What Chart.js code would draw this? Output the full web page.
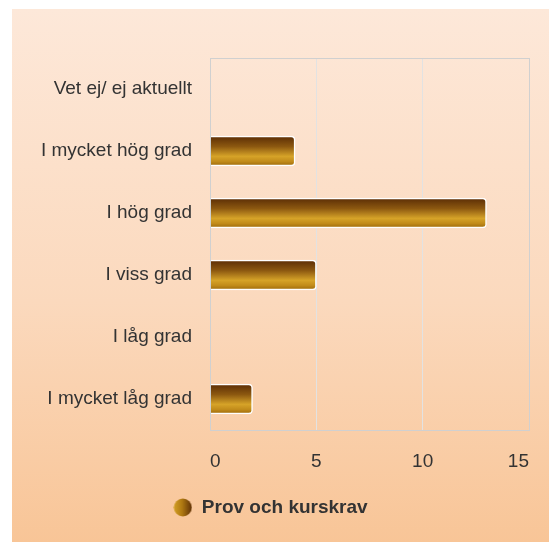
<!DOCTYPE html>
<html>
<head>
<meta charset="utf-8">
<script src="https://cdn.jsdelivr.net/npm/chart.js@4.4.0/dist/chart.umd.min.js"></script>
<style>
  html, body { margin: 0; padding: 0; background: #fff; overflow: hidden; }
  #wrap {
    position: absolute; left: 12px; top: 9px; width: 537px; height: 533px;
    background: linear-gradient(to bottom, #fde8d9 0%, #fbd9bd 55%, #f8c597 100%);
  }
</style>
</head>
<body>
<div id="wrap"><canvas id="chart"></canvas></div>
<script>
const categories = ["Vet ej/ ej aktuellt", "I mycket hög grad", "I hög grad", "I viss grad", "I låg grad", "I mycket låg grad"];
const values = [0, 4, 13, 5, 0, 2];
const seriesName = "Prov och kurskrav";
const xTicks = [0, 5, 10, 15];

const ctx = document.getElementById("chart").getContext("2d");
const FONT = "Arial, 'Liberation Sans', sans-serif";

// little gradient circle for the legend
const dot = document.createElement("canvas");
dot.width = 19; dot.height = 19;
const dctx = dot.getContext("2d");
const dg = dctx.createLinearGradient(0, 0, 19, 0);
dg.addColorStop(0, "#d4a126");
dg.addColorStop(0.45, "#b07a12");
dg.addColorStop(1, "#5c2e06");
dctx.fillStyle = dg;
dctx.beginPath();
dctx.arc(9.5, 9.5, 9, 0, Math.PI * 2);
dctx.fill();

function barFill(c) {
  const chart = c.chart;
  if (!chart.chartArea || !chart.scales.y) return "#b07a12";
  const y = chart.scales.y.getPixelForValue(c.dataIndex);
  const g = chart.ctx.createLinearGradient(0, y - 15, 0, y + 15);
  g.addColorStop(0, "#5a2c05");
  g.addColorStop(0.35, "#8c5810");
  g.addColorStop(0.68, "#d6a328");
  g.addColorStop(0.85, "#c18b1a");
  g.addColorStop(1, "#9a680a");
  return g;
}

const plotBorder = {
  id: "plotBorder",
  afterDraw(chart) {
    const a = chart.chartArea;
    const c = chart.ctx;
    c.save();
    c.strokeStyle = "#d0d0d0";
    c.lineWidth = 1;
    c.strokeRect(a.left + 0.5, a.top + 0.5, a.right - a.left, a.bottom - a.top);
    c.restore();
  }
};

new Chart(ctx, {
  type: "bar",
  data: {
    labels: categories,
    datasets: [{
      label: seriesName,
      data: values,
      backgroundColor: barFill,
      borderColor: "#ffffff",
      borderWidth: 1.5,
      borderRadius: { topRight: 4, bottomRight: 4 },
      borderSkipped: "start",
      barThickness: 30
    }]
  },
  options: {
    indexAxis: "y",
    responsive: true,
    maintainAspectRatio: false,
    animation: false,
    layout: { padding: { top: 49, right: 20, bottom: 15, left: 0 } },
    scales: {
      x: {
        min: xTicks[0],
        max: xTicks[xTicks.length - 1],
        afterFit: (s) => { s.height = 50; },
        grid: { color: "#e2e2e2", drawTicks: false },
        border: { display: false },
        ticks: {
          stepSize: xTicks[1] - xTicks[0],
          maxRotation: 0, minRotation: 0, align: "inner",
          color: "#333", font: { family: FONT, size: 19 }, padding: 20
        }
      },
      y: {
        afterFit: (s) => { s.width = 198; },
        grid: { display: false },
        border: { display: false },
        ticks: { color: "#333", font: { family: FONT, size: 19 }, padding: 10 }
      }
    },
    plugins: {
      tooltip: { enabled: false },
      legend: {
        position: "bottom",
        labels: {
          usePointStyle: true,
          pointStyle: dot,
          color: "#333",
          padding: 18,
          font: { family: FONT, size: 19, weight: "bold" },
          generateLabels: () => [{
            text: seriesName, pointStyle: dot, fontColor: "#333",
            fillStyle: "#b07a12", strokeStyle: "transparent", lineWidth: 0, datasetIndex: 0
          }]
        }
      }
    }
  },
  plugins: [plotBorder]
});
</script>
</body>
</html>
